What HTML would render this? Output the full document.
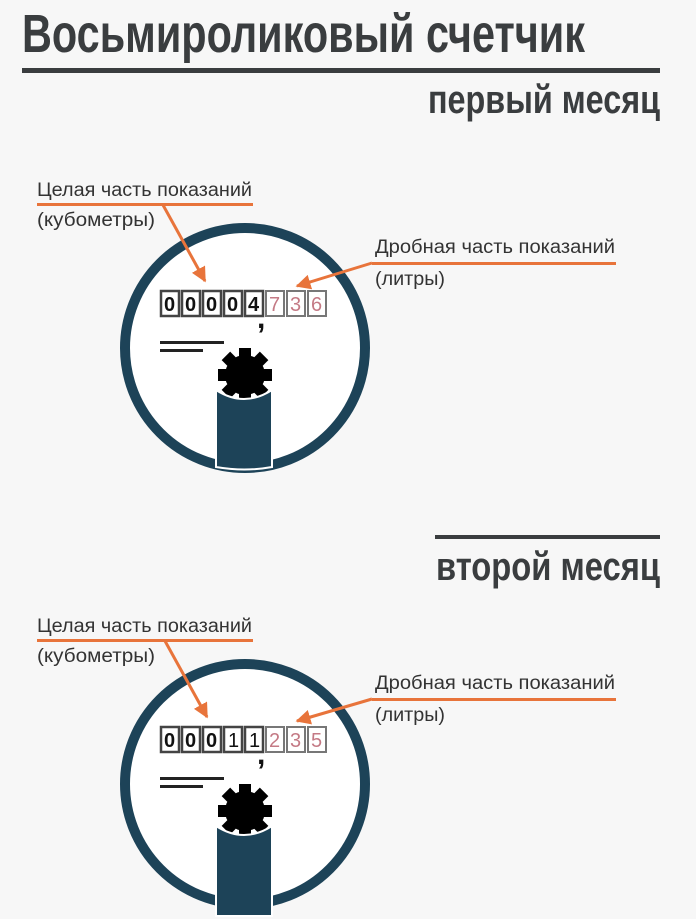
<!DOCTYPE html>
<html><head><meta charset="utf-8"><style>
html,body{margin:0;padding:0;background:#f7f7f7;}
svg{display:block;}
text{font-family:"Liberation Sans Narrow","Liberation Sans",sans-serif;fill:#3a3d3f;}
.lab{font-size:19px;fill:#333;}
</style></head><body>
<svg width="696" height="919" viewBox="0 0 696 919" xmlns="http://www.w3.org/2000/svg">
<defs>
<g id="gear">
  <circle cx="0" cy="0" r="20" fill="#000"/>
  <g fill="#000">
    <rect x="-6" y="-27" width="12" height="10"/>
    <rect x="-6" y="17" width="12" height="10"/>
    <rect x="-27" y="-6" width="10" height="12"/>
    <rect x="17" y="-6" width="10" height="12"/>
    <rect x="-6" y="-27" width="12" height="10" transform="rotate(45)"/>
    <rect x="-6" y="-27" width="12" height="10" transform="rotate(-45)"/>
    <rect x="-6" y="-27" width="12" height="10" transform="rotate(135)"/>
    <rect x="-6" y="-27" width="12" height="10" transform="rotate(-135)"/>
  </g>
</g>
<marker id="ah" viewBox="0 0 10 10" refX="9" refY="5" markerWidth="5" markerHeight="5" orient="auto"><path d="M0,0 L10,5 L0,10 z" fill="#e8743b"/></marker>
</defs>

<text x="22" y="52" font-size="54" font-weight="bold" textLength="563" lengthAdjust="spacingAndGlyphs">Восьмироликовый счетчик</text>
<rect x="22" y="68" width="638" height="5" fill="#3a3d3f"/>
<text x="428" y="113" font-size="40" font-weight="bold" textLength="232" lengthAdjust="spacingAndGlyphs">первый месяц</text>

<rect x="435" y="535" width="225" height="4" fill="#3a3d3f"/>
<text x="436" y="580" font-size="40" font-weight="bold" textLength="224" lengthAdjust="spacingAndGlyphs">второй месяц</text>

<g>
<circle cx="245" cy="348" r="120" fill="#fff" stroke="#1d4358" stroke-width="10"/>
<rect x="160" y="341" width="64" height="3" fill="#222"/>
<rect x="160" y="349" width="43" height="3" fill="#222"/>
<use href="#gear" transform="translate(245,375)"/>
<path d="M216,390 Q244,408 272,390 L272,467 Q245,472 216,467 Z" fill="#1d4358" stroke="#fff" stroke-width="2"/>
</g>
<g transform="translate(0,436)">
<circle cx="245" cy="348" r="120" fill="#fff" stroke="#1d4358" stroke-width="10"/>
<rect x="160" y="341" width="64" height="3" fill="#222"/>
<rect x="160" y="349" width="43" height="3" fill="#222"/>
<use href="#gear" transform="translate(245,375)"/>
<path d="M216,390 Q244,408 272,390 L272,480 L216,480 Z" fill="#1d4358" stroke="#fff" stroke-width="2"/>
</g>

<g font-size="20" font-family="Liberation Sans" font-weight="bold">
<g fill="none" stroke="#444" stroke-width="2.5">
<rect x="161" y="291" width="18" height="25"/><rect x="182" y="291" width="18" height="25"/><rect x="203" y="291" width="18" height="25"/><rect x="224" y="291" width="18" height="25"/><rect x="245" y="291" width="18" height="25"/>
</g>
<g fill="none" stroke="#777" stroke-width="2">
<rect x="266" y="291" width="18" height="25"/><rect x="287" y="291" width="18" height="25"/><rect x="308" y="291" width="18" height="25"/>
</g>
<text x="164" y="311" style="fill:#111">0</text><text x="185" y="311" style="fill:#111">0</text><text x="206" y="311" style="fill:#111">0</text><text x="227" y="311" style="fill:#111">0</text><text x="248" y="311" style="fill:#111">4</text>
<text x="269" y="311" font-weight="normal" style="fill:#c47a85">7</text><text x="290" y="311" font-weight="normal" style="fill:#c47a85">3</text><text x="311" y="311" font-weight="normal" style="fill:#c47a85">6</text>
<text x="257" y="328" font-size="30" style="fill:#111">,</text>
</g>
<g font-size="20" font-family="Liberation Sans" font-weight="bold" transform="translate(0,436)">
<g fill="none" stroke="#444" stroke-width="2.5">
<rect x="161" y="291" width="18" height="25"/><rect x="182" y="291" width="18" height="25"/><rect x="203" y="291" width="18" height="25"/><rect x="224" y="291" width="18" height="25"/><rect x="245" y="291" width="18" height="25"/>
</g>
<g fill="none" stroke="#777" stroke-width="2">
<rect x="266" y="291" width="18" height="25"/><rect x="287" y="291" width="18" height="25"/><rect x="308" y="291" width="18" height="25"/>
</g>
<text x="164" y="311" style="fill:#111">0</text><text x="185" y="311" style="fill:#111">0</text><text x="206" y="311" style="fill:#111">0</text><text x="228" y="311" font-weight="normal" style="fill:#111">1</text><text x="249" y="311" font-weight="normal" style="fill:#111">1</text>
<text x="269" y="311" font-weight="normal" style="fill:#c47a85">2</text><text x="290" y="311" font-weight="normal" style="fill:#c47a85">3</text><text x="311" y="311" font-weight="normal" style="fill:#c47a85">5</text>
<text x="257" y="328" font-size="30" style="fill:#111">,</text>
</g>

<text class="lab" x="37" y="196" textLength="215" lengthAdjust="spacingAndGlyphs">Целая часть показаний</text>
<rect x="37" y="203" width="216" height="3" fill="#e8743b"/>
<text class="lab" x="37" y="226" textLength="118" lengthAdjust="spacingAndGlyphs">(кубометры)</text>
<line x1="163" y1="205" x2="205" y2="281" stroke="#e8743b" stroke-width="3" marker-end="url(#ah)"/>
<text class="lab" x="375" y="253" textLength="240" lengthAdjust="spacingAndGlyphs">Дробная часть показаний</text>
<rect x="372" y="262" width="244" height="3" fill="#e8743b"/>
<text class="lab" x="375" y="285" textLength="70" lengthAdjust="spacingAndGlyphs">(литры)</text>
<line x1="372" y1="263" x2="297" y2="286" stroke="#e8743b" stroke-width="3" marker-end="url(#ah)"/>

<text class="lab" x="37" y="632" textLength="215" lengthAdjust="spacingAndGlyphs">Целая часть показаний</text>
<rect x="37" y="639" width="216" height="3" fill="#e8743b"/>
<text class="lab" x="37" y="662" textLength="118" lengthAdjust="spacingAndGlyphs">(кубометры)</text>
<line x1="165" y1="641" x2="207" y2="717" stroke="#e8743b" stroke-width="3" marker-end="url(#ah)"/>
<text class="lab" x="375" y="689" textLength="240" lengthAdjust="spacingAndGlyphs">Дробная часть показаний</text>
<rect x="372" y="698" width="244" height="3" fill="#e8743b"/>
<text class="lab" x="375" y="721" textLength="70" lengthAdjust="spacingAndGlyphs">(литры)</text>
<line x1="372" y1="699" x2="297" y2="721" stroke="#e8743b" stroke-width="3" marker-end="url(#ah)"/>
</svg>
</body></html>
